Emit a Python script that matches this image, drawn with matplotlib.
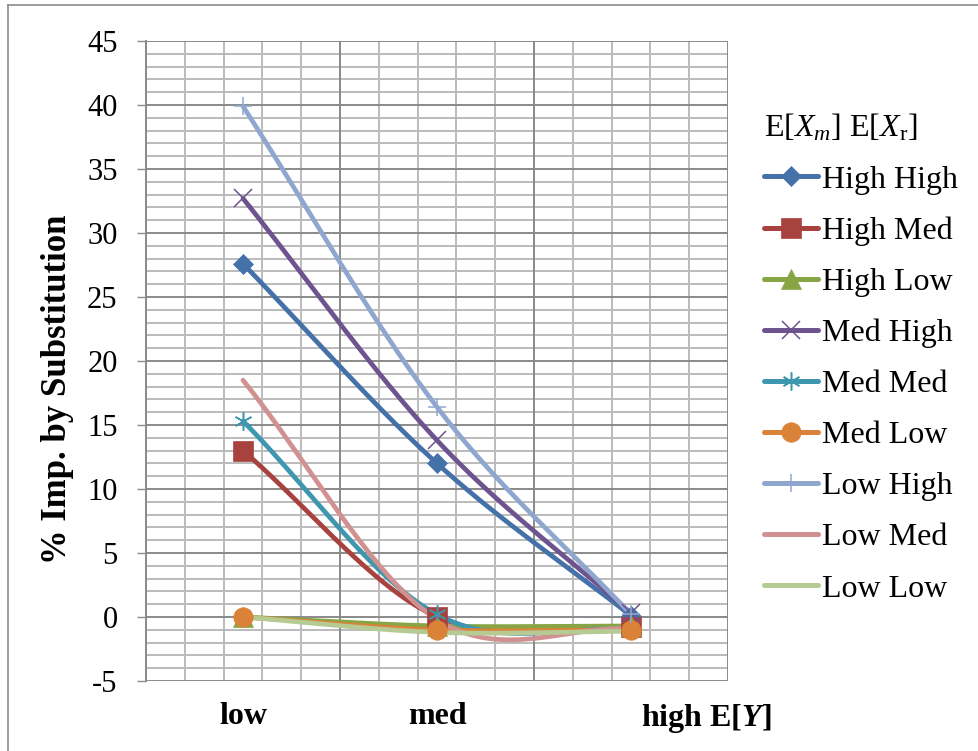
import numpy as np
import matplotlib
matplotlib.use("Agg")
import matplotlib.pyplot as plt
import matplotlib.transforms as mtransforms
from matplotlib.lines import Line2D
from matplotlib.ticker import MultipleLocator, FixedLocator

# ---- data -------------------------------------------------------------
categories = ["low", "med", "high E[$\\mathbfit{Y}$]"]
series_names = ["High High", "High Med", "High Low",
                "Med High", "Med Med", "Med Low",
                "Low High", "Low Med", "Low Low"]

high_high = [27.6, 12.0, 0.1]
high_med = [13.0, 0.0, -0.8]
high_low = [0.0, -0.7, -0.7]
med_high = [32.7, 13.8, 0.3]
med_med = [15.3, 0.2, -1.0]
med_low = [0.0, -1.0, -1.0]
low_high = [39.9, 16.4, 0.2]
low_med = [18.5, -0.2, -0.9]
low_low = [0.0, -1.2, -1.1]

series_values = [high_high, high_med, high_low, med_high, med_med,
                 med_low, low_high, low_med, low_low]

# ---- styles -----------------------------------------------------------
colors = ["#4371A8", "#A8423F", "#87A545", "#6E548E", "#3E97AF",
          "#DB8239", "#8FA7CF", "#D09190", "#B6CB93"]
markers = ["D", "s", "^", "x", (6, 2, 0), "o", "+", None, None]
msizes = [10, 14, 14, 13, 13, 14, 13, 0, 0]
thin_markers = ("x", "+", (6, 2, 0))

plt.rcParams["font.family"] = ["Liberation Serif", "DejaVu Serif"]
plt.rcParams["mathtext.fontset"] = "custom"
plt.rcParams["mathtext.rm"] = "Liberation Serif"
plt.rcParams["mathtext.it"] = "Liberation Serif:italic"
plt.rcParams["mathtext.bf"] = "Liberation Serif:bold"
plt.rcParams["mathtext.bfit"] = "Liberation Serif:italic:bold"


def smooth(y, n=80):
    """Cubic Hermite (Catmull-Rom style) curve through evenly spaced points."""
    y = np.asarray(y, dtype=float)
    x = np.arange(len(y), dtype=float)
    m = np.empty_like(y)
    m[0] = y[1] - y[0]
    m[-1] = y[-1] - y[-2]
    m[1:-1] = (y[2:] - y[:-2]) / 2.0
    xs, ys = [], []
    for i in range(len(y) - 1):
        t = np.linspace(0, 1, n, endpoint=(i == len(y) - 2))
        h00 = 2 * t**3 - 3 * t**2 + 1
        h10 = t**3 - 2 * t**2 + t
        h01 = -2 * t**3 + 3 * t**2
        h11 = t**3 - t**2
        xs.append(x[i] + t)
        ys.append(h00 * y[i] + h10 * m[i] + h01 * y[i + 1] + h11 * m[i + 1])
    return np.concatenate(xs), np.concatenate(ys)


W, H = 979, 751
fig = plt.figure(figsize=(W / 100, H / 100), dpi=100)
fig.patch.set_facecolor("white")

# plot area in pixels: x 146..728, y 41..681
ax = fig.add_axes([146 / W, 1 - 681 / H, (728 - 146) / W, (681 - 41) / H])

x = np.arange(len(categories))
handles = []
for name, vals, c, mk, ms in zip(series_names, series_values, colors, markers, msizes):
    sx, sy = smooth(vals)
    ax.plot(sx, sy, color=c, lw=3.4, solid_capstyle="round", zorder=3)
    mew = 1.1 if mk in thin_markers else 0.5
    if mk is not None:
        ax.plot(x, vals, linestyle="none", marker=mk, markersize=ms,
                markerfacecolor=c, markeredgecolor=c,
                markeredgewidth=mew, zorder=4)
    handles.append(Line2D([], [], color=c, lw=3.6, solid_capstyle="round",
                          marker=mk, markersize=ms, markerfacecolor=c,
                          markeredgecolor=c, markeredgewidth=mew))

# ---- axes & grid ------------------------------------------------------
ax.set_xlim(-0.5, 2.5)
ax.set_ylim(-5, 45)
bounds = [-0.5, 0.5, 1.5, 2.5]

for b in bounds:
    ax.axvline(b, color="#8A8A8A", lw=1.4, zorder=1)
for v in np.arange(-0.5, 2.51, 0.2):
    if not any(abs(v - b) < 1e-6 for b in bounds):
        ax.axvline(v, color="#BBBBBB", lw=1.4, zorder=0.5)
for yv in range(-5, 46):
    if yv % 5 == 0:
        ax.axhline(yv, color="#8A8A8A", lw=1.4, zorder=1)
    else:
        ax.axhline(yv, color="#BBBBBB", lw=1.4, zorder=0.5)

for side in ("top", "right", "bottom"):
    ax.spines[side].set_visible(False)
ax.spines["left"].set_color("#8A8A8A")
ax.spines["left"].set_linewidth(1.4)

ax.tick_params(axis="y", which="major", direction="out", length=6.5,
               width=1.0, color="#8A8A8A", labelsize=22, pad=14)
ax.tick_params(axis="y", which="minor", length=0)
ax.tick_params(axis="x", which="both", length=0, labelsize=23, pad=15)

ax.set_yticks(range(-5, 46, 5))
ax.set_yticklabels([str(v) for v in range(-5, 46, 5)])
ax.set_xticks(x)
ax.set_xticklabels(categories, fontweight="bold")
last = ax.get_xticklabels()[-1]
last.set_horizontalalignment("left")
last.set_transform(last.get_transform() +
                   mtransforms.ScaledTranslation(10 / 100, 0, fig.dpi_scale_trans))

ax.set_ylabel("% Imp. by Substitution", fontsize=25, fontweight="bold")
ax.yaxis.set_label_coords(-0.124, 0.455)

# ---- legend -----------------------------------------------------------
leg = fig.legend(handles=handles, labels=series_names,
                 title="E[$X_m$] E[$X_{\\mathrm{r}}$]",
                 loc="upper left", bbox_to_anchor=(764 / W, 1 - 112 / H),
                 frameon=False, fontsize=23, title_fontsize=23,
                 handlelength=1.68, handletextpad=0.15, labelspacing=0.68,
                 borderpad=0, borderaxespad=0, alignment="left")

# chart-area border (left and top edges)
fig.add_artist(Line2D([8 / W, 8 / W], [0, 1 - 5 / H], transform=fig.transFigure,
                      color="#8C8C8C", lw=1.2))
fig.add_artist(Line2D([8 / W, 1], [1 - 5 / H, 1 - 5 / H], transform=fig.transFigure,
                      color="#8C8C8C", lw=1.2))

fig.savefig("out.png", dpi=100)
